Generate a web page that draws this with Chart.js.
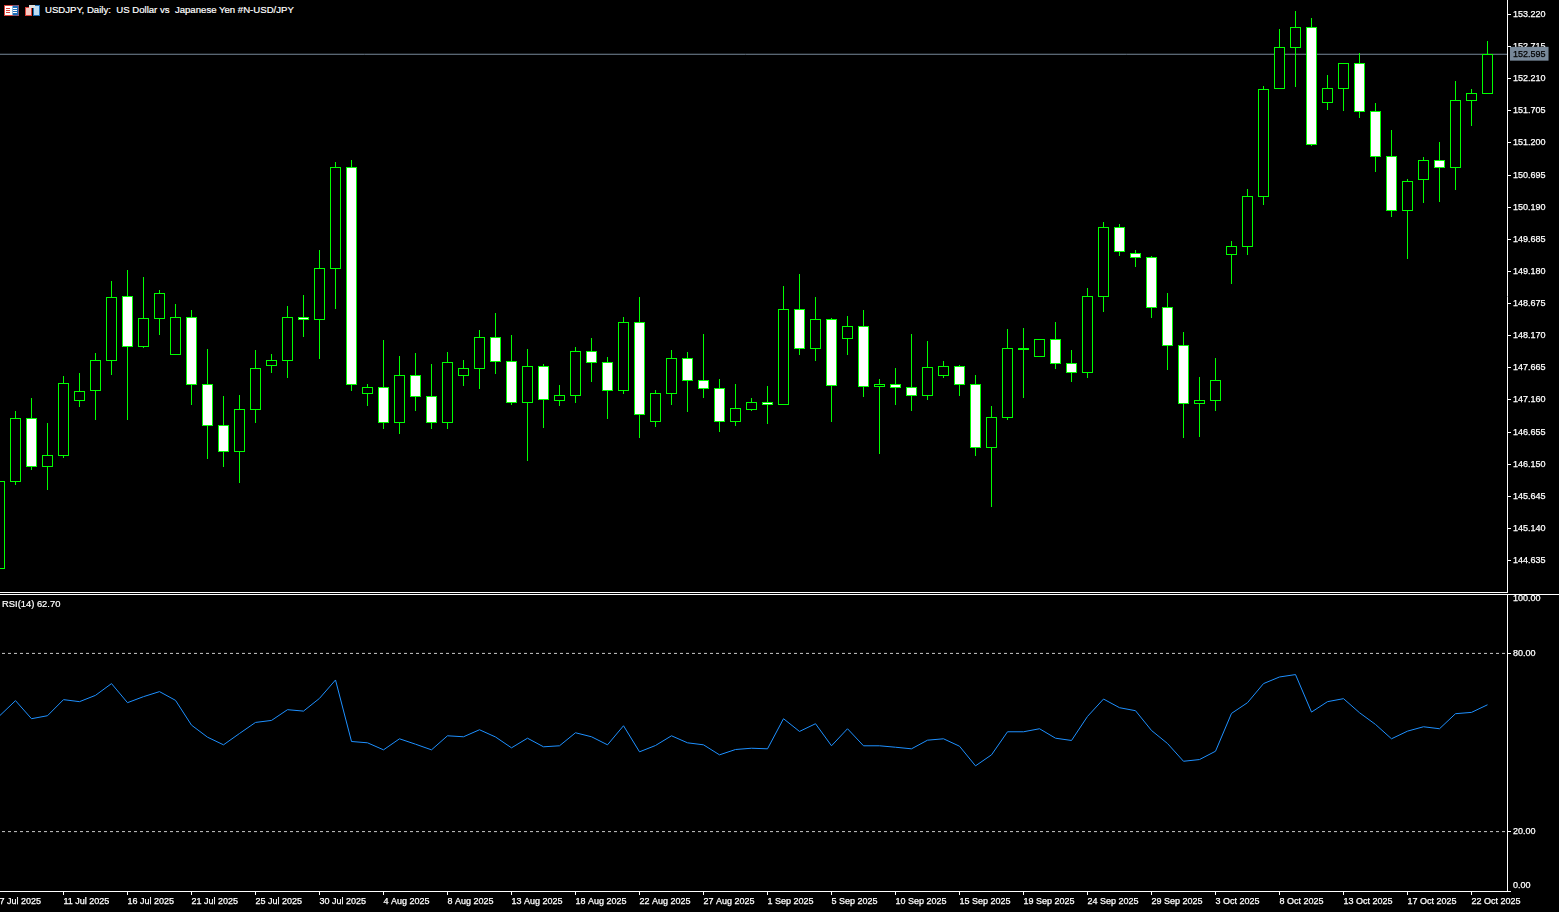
<!DOCTYPE html>
<html>
<head>
    <title>USDJPY Daily</title>
    <script src="https://cdn.jsdelivr.net/npm/chart.js"></script>
    <style>
        html, body { margin: 0; height: 100%; background: #000; overflow: hidden; }
        body { position: relative; width: 1559px; height: 912px; font: 9.6px "Liberation Sans", sans-serif; color: #fff; }
        canvas { position: absolute; left: -16px; }
        #price-chart { top: 0; }
        #rsi-chart { top: 594px; }
        #sep-price { position: absolute; left: 0; top: 592px; width: 1508px; height: 1px; background: #fff; }
        #sep-rsi { position: absolute; left: 0; top: 594px; width: 1559px; height: 1px; background: #fff; }
        .caption { position: absolute; white-space: pre; line-height: 12px; -webkit-text-stroke: 0.2px #fff; }
        #title { left: 45px; top: 4px; }
        #rsi-label { left: 2px; top: 598px; font-size: 9.4px; }
        svg { position: absolute; top: 5px; }
    </style>
</head>
<body>
    <svg style="left:4px" width="15" height="11" viewBox="0 0 15 11">
        <rect x="0.5" y="0.5" width="14" height="10" fill="#fff" stroke="#d9423a"/>
        <rect x="8.5" y="0.5" width="6" height="10" fill="#1d6fb8"/>
        <path d="M2 3.5h4M2 5.5h4M2 7.5h4" stroke="#d9423a"/>
        <path d="M9 3.5h4M9 5.5h4M9 7.5h4" stroke="#fff"/>
    </svg>
    <svg style="left:25px" width="15" height="11" viewBox="0 0 15 11">
        <rect x="0.5" y="2.5" width="6" height="8" fill="#f6c9c2" stroke="#d9423a"/>
        <rect x="8.5" y="0.5" width="6" height="10" fill="#bcdcf2" stroke="#1d6fb8"/>
        <rect x="4" y="0" width="6" height="3" fill="#ddd"/>
    </svg>
    <div id="title" class="caption">USDJPY, Daily:  US Dollar vs  Japanese Yen #N-USD/JPY</div>
    <canvas id="price-chart" width="1575" height="592"></canvas>
    <div id="sep-price"></div>
    <div id="sep-rsi"></div>
    <canvas id="rsi-chart" width="1575" height="318"></canvas>
    <div id="rsi-label" class="caption">RSI(14) 62.70</div>

    <script>
// Daily candles, one entry per trading day from 7 Jul 2025 to 23 Oct 2025
const opens = [144.501, 145.870, 146.876, 146.105, 146.278, 147.143, 147.300, 147.772, 148.794, 147.992, 148.432, 147.866, 148.464, 147.410, 146.766, 146.341,
    147.001, 147.693, 147.772, 148.464, 148.417, 149.218, 150.822, 147.253, 147.363, 146.797, 147.552, 147.222, 146.797, 147.536, 147.646, 148.149,
    147.772, 147.112, 147.693, 147.143, 147.222, 147.929, 147.756, 147.300, 148.385, 146.813, 147.253, 147.819, 147.473, 147.347, 146.813, 147.001,
    147.127, 147.080, 148.590, 147.961, 148.432, 148.118, 148.322, 147.363, 147.410, 147.363, 147.222, 147.536, 147.693, 147.410, 146.404, 146.876,
    147.945, 147.835, 148.118, 147.740, 147.583, 148.778, 149.879, 149.470, 149.407, 148.621, 148.024, 147.096, 147.143, 149.439, 149.564, 150.351,
    152.049, 152.693, 153.023, 151.829, 152.049, 152.457, 151.703, 150.995, 150.130, 150.618, 150.932, 150.806, 151.860, 151.970];
const highs = [145.885, 146.986, 147.190, 146.797, 147.536, 147.583, 147.898, 149.030, 149.203, 149.093, 148.888, 148.668, 148.574, 147.961, 147.222, 147.237,
    147.945, 147.882, 148.637, 148.810, 149.517, 150.901, 150.932, 147.410, 148.102, 147.851, 147.898, 147.725, 147.914, 147.788, 148.259, 148.527,
    148.181, 147.961, 147.725, 147.395, 147.992, 148.134, 147.835, 148.464, 148.778, 147.316, 147.945, 147.914, 148.196, 147.489, 147.410, 147.190,
    147.379, 148.951, 149.140, 148.778, 148.448, 148.480, 148.574, 147.489, 147.662, 148.196, 148.086, 147.772, 147.709, 147.552, 147.064, 148.275,
    148.291, 148.118, 148.385, 147.945, 148.920, 149.957, 149.926, 149.517, 149.423, 148.841, 148.228, 147.520, 147.819, 149.659, 150.476, 152.096,
    152.992, 153.275, 153.165, 152.269, 152.457, 152.615, 151.829, 151.404, 150.634, 150.979, 151.215, 152.174, 152.049, 152.803];
const lows = [144.501, 145.822, 146.058, 145.744, 146.247, 147.049, 146.844, 147.552, 146.844, 147.976, 148.181, 147.866, 147.080, 146.231, 146.105, 145.854,
    146.797, 147.583, 147.505, 148.149, 147.803, 148.590, 147.300, 147.064, 146.703, 146.624, 146.986, 146.703, 146.703, 147.379, 147.332, 147.568,
    147.080, 146.200, 146.718, 147.064, 147.112, 147.442, 146.860, 147.253, 146.561, 146.734, 147.080, 146.970, 147.190, 146.656, 146.750, 146.986,
    146.781, 147.080, 147.866, 147.772, 146.813, 147.866, 147.206, 146.310, 147.080, 146.986, 147.159, 147.505, 147.222, 146.278, 145.476, 146.844,
    147.190, 147.835, 147.646, 147.442, 147.505, 148.543, 149.423, 149.250, 148.448, 147.630, 146.561, 146.577, 146.986, 148.983, 149.439, 150.225,
    152.049, 152.080, 151.152, 151.718, 151.703, 151.593, 150.744, 150.036, 149.376, 150.256, 150.272, 150.461, 151.467, 151.970];
const closes = [145.885, 146.876, 146.105, 146.294, 147.426, 147.300, 147.788, 148.778, 147.992, 148.448, 148.841, 148.464, 147.395, 146.750, 146.341, 147.017,
    147.662, 147.788, 148.464, 148.417, 149.234, 150.822, 147.395, 147.363, 146.797, 147.552, 147.206, 146.797, 147.756, 147.662, 148.149, 147.756,
    147.112, 147.693, 147.159, 147.237, 147.929, 147.740, 147.300, 148.385, 146.923, 147.269, 147.819, 147.458, 147.332, 146.813, 147.033, 147.127,
    147.080, 148.590, 147.961, 148.432, 147.379, 148.322, 147.363, 147.410, 147.347, 147.222, 147.677, 147.693, 147.395, 146.404, 146.892, 147.976,
    147.976, 148.118, 147.725, 147.583, 148.794, 149.879, 149.486, 149.391, 148.605, 148.008, 147.096, 147.159, 147.473, 149.580, 150.366, 152.049,
    152.709, 153.023, 151.168, 152.064, 152.457, 151.687, 150.979, 150.130, 150.602, 150.932, 150.806, 151.876, 151.986, 152.595];

const rsiValues = [58.95, 64.09, 58.01, 59.02, 64.43, 63.75, 65.88, 69.83, 63.41, 65.44, 67.13, 64.19, 55.84, 51.79, 49.22, 53.04,
    56.76, 57.43, 61.05, 60.57, 64.86, 71.05, 50.34, 49.90, 47.53, 51.25, 49.43, 47.53, 52.26, 51.93, 54.29, 51.86,
    48.21, 51.45, 48.55, 48.89, 53.28, 51.93, 49.22, 55.64, 46.86, 48.99, 52.26, 49.90, 49.22, 45.84, 47.64, 48.07,
    47.87, 58.01, 53.72, 56.32, 48.89, 54.63, 48.89, 48.89, 48.41, 47.87, 50.78, 51.25, 48.75, 42.13, 45.84, 53.61,
    53.61, 54.63, 51.45, 50.68, 58.78, 64.63, 61.72, 60.71, 54.05, 49.66, 43.68, 44.26, 47.06, 59.80, 63.41, 69.83,
    72.06, 72.87, 60.24, 63.75, 64.76, 60.03, 56.08, 51.25, 53.82, 55.30, 54.63, 59.70, 60.14, 62.70];

const lastPrice = 152.595;
const rsiLevels = [80, 20];

// Labels for the axes
const priceTicks = [153.220, 152.715, 152.210, 151.705, 151.200, 150.695, 150.190, 149.685, 149.180, 148.675, 148.170, 147.665, 147.160, 146.655, 146.150, 145.645, 145.140, 144.635];
const rsiTicks = [100, 80, 20, 0];
const dateTicks = ['7 Jul 2025', '11 Jul 2025', '16 Jul 2025', '21 Jul 2025', '25 Jul 2025', '30 Jul 2025', '4 Aug 2025', '8 Aug 2025', '13 Aug 2025', '18 Aug 2025', '22 Aug 2025', '27 Aug 2025',
    '1 Sep 2025', '5 Sep 2025', '10 Sep 2025', '15 Sep 2025', '19 Sep 2025', '24 Sep 2025', '29 Sep 2025', '3 Oct 2025', '8 Oct 2025', '13 Oct 2025', '17 Oct 2025', '22 Oct 2025'];
const barsPerDateTick = 4;

// Visible window of the two panes
const xMin = -0.96875;
const xMax = 94.21875;
const priceMin = 144.14;
const priceMax = 153.448;

const GREEN = '#00ff00';
const WHITE = '#ffffff';
const BLACK = '#000000';
const TEXT_STROKE = 0.25;

Chart.defaults.font.family = '"Liberation Sans", sans-serif';
Chart.defaults.font.size = 9;

// MT5 draws without anti-aliasing, so put the candle edges on whole pixels
const snapBars = {
    id: 'snapBars',
    afterDatasetsUpdate(chart) {
        chart.getSortedVisibleDatasetMetas().forEach(meta => {
            if (meta.type !== 'bar') return;
            meta.data.forEach(bar => {
                bar.y = Math.round(bar.y);
                bar.base = Math.round(bar.base);
            });
        });
    }
};

// The first and last labels of the RSI axis sit inside the pane
const nudgeRsiLabels = {
    id: 'nudgeRsiLabels',
    beforeDraw(chart) {
        const scale = chart.scales.y;
        scale.getLabelItems().forEach((item, i) => {
            if (item.nudged) return;
            item.nudged = true;
            if (scale.ticks[i].value === 100) item.options.translation[1] += 5;
            if (scale.ticks[i].value === 0) item.options.translation[1] -= 5;
        });
    }
};

// Labels may run past the pane, the plot area must not shrink for them
function noPadding(scale) {
    scale.paddingTop = 0;
    scale.paddingBottom = 0;
    scale.paddingLeft = 0;
    scale.paddingRight = 0;
}

function axisY(values, format, extra) {
    return Object.assign({
        position: 'right',
        afterFit: scale => { scale.width = 52; noPadding(scale); },
        afterBuildTicks: scale => { scale.ticks = values.map(v => ({ value: v })); },
        border: { color: WHITE, width: 1 },
        grid: { drawOnChartArea: false, tickLength: 4, tickColor: WHITE, tickWidth: 1 },
        ticks: {
            color: WHITE,
            textStrokeColor: WHITE,
            textStrokeWidth: TEXT_STROKE,
            padding: 2,
            autoSkip: false,
            callback: format
        }
    }, extra);
}

new Chart(document.getElementById('price-chart'), {
    type: 'bar',
    data: {
        datasets: [
            {
                label: 'body',
                order: 1,
                data: closes.map((c, i) => ({ x: i, y: [opens[i], c] })),
                barThickness: 11,
                grouped: false,
                inflateAmount: 0,
                borderSkipped: false,
                borderWidth: 1,
                borderColor: GREEN,
                backgroundColor: closes.map((c, i) => c < opens[i] ? WHITE : BLACK)
            },
            {
                label: 'wick',
                order: 2,
                data: highs.map((h, i) => ({ x: i, y: [lows[i], h] })),
                barThickness: 1,
                grouped: false,
                inflateAmount: 0,
                borderWidth: 0,
                backgroundColor: GREEN
            },
            {
                type: 'line',
                label: 'bid',
                order: 3,
                data: [{ x: xMin, y: lastPrice }, { x: xMax, y: lastPrice }],
                borderColor: '#778899',
                borderWidth: 1,
                pointRadius: 0
            }
        ]
    },
    options: {
        responsive: false,
        animation: false,
        devicePixelRatio: 1,
        layout: { padding: 0 },
        plugins: { legend: { display: false }, tooltip: { enabled: false } },
        scales: {
            x: { type: 'linear', display: false, offset: false, min: xMin, max: xMax },
            y: axisY(priceTicks.concat(lastPrice), v => v.toFixed(3), {
                min: priceMin,
                max: priceMax,
                grid: {
                    drawOnChartArea: false,
                    tickLength: 4,
                    tickWidth: 1,
                    tickColor: ctx => ctx.tick && ctx.tick.value === lastPrice ? 'rgba(0,0,0,0)' : WHITE
                },
                ticks: {
                    color: ctx => ctx.tick && ctx.tick.value === lastPrice ? BLACK : WHITE,
                    textStrokeColor: ctx => ctx.tick && ctx.tick.value === lastPrice ? BLACK : WHITE,
                    textStrokeWidth: TEXT_STROKE,
                    padding: 2,
                    autoSkip: false,
                    callback: v => v.toFixed(3),
                    showLabelBackdrop: ctx => ctx.tick && ctx.tick.value === lastPrice,
                    backdropColor: '#778899',
                    backdropPadding: { left: 3, right: 3, top: 2, bottom: 1 }
                }
            })
        }
    },
    plugins: [snapBars]
});

const rsiLevelSets = rsiLevels.map(level => ({
    label: 'level ' + level,
    data: [{ x: xMin, y: level }, { x: xMax, y: level }],
    borderColor: '#c8c8c8',
    borderWidth: 1,
    borderDash: [3, 3],
    pointRadius: 0
}));

new Chart(document.getElementById('rsi-chart'), {
    type: 'line',
    data: {
        datasets: [{
            label: 'RSI(14)',
            data: rsiValues.map((v, i) => ({ x: i, y: v })),
            borderColor: '#1e90ff',
            borderWidth: 1,
            pointRadius: 0,
            tension: 0
        }].concat(rsiLevelSets)
    },
    options: {
        responsive: false,
        animation: false,
        devicePixelRatio: 1,
        layout: { padding: 0 },
        plugins: { legend: { display: false }, tooltip: { enabled: false } },
        scales: {
            x: {
                type: 'linear',
                min: xMin,
                max: xMax,
                afterFit: scale => { scale.height = 21; noPadding(scale); },
                afterBuildTicks: scale => {
                    scale.ticks = dateTicks.map((label, i) => ({ value: i * barsPerDateTick }));
                },
                border: { color: WHITE, width: 1 },
                grid: { drawOnChartArea: false, tickLength: 4, tickColor: WHITE, tickWidth: 1 },
                ticks: {
                    color: WHITE,
                    textStrokeColor: WHITE,
                    textStrokeWidth: TEXT_STROKE,
                    align: 'start',
                    maxRotation: 0,
                    autoSkip: false,
                    padding: 1,
                    callback: v => dateTicks[v / barsPerDateTick]
                }
            },
            y: axisY(rsiTicks, v => v.toFixed(2), { min: 0, max: 100 })
        }
    },
    plugins: [nudgeRsiLabels]
});
    </script>
</body>
</html>
